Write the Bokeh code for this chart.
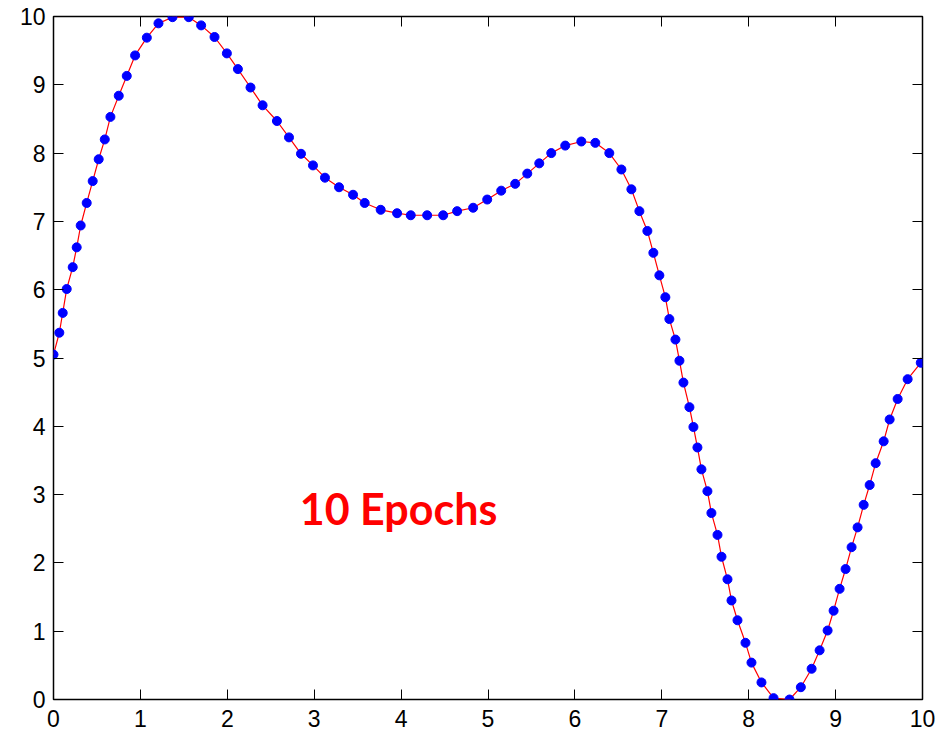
from bokeh.plotting import figure
from bokeh.models import Range1d, LinearAxis, FixedTicker, Label
from bokeh.embed import file_html
from bokeh.resources import INLINE

x_vals = [0.00, 0.067, 0.106, 0.152, 0.221, 0.267, 0.313, 0.382, 0.451, 0.520,
          0.590, 0.655, 0.751, 0.843, 0.939, 1.074, 1.208, 1.369, 1.557, 1.699,
          1.853, 1.995, 2.122, 2.267, 2.406, 2.571, 2.710, 2.848, 2.986, 3.124,
          3.286, 3.447, 3.581, 3.765, 3.954, 4.111, 4.300, 4.484, 4.645, 4.829,
          4.991, 5.152, 5.313, 5.452, 5.590, 5.728, 5.889, 6.074, 6.235, 6.396,
          6.535, 6.650, 6.742, 6.834, 6.903, 6.972, 7.041, 7.087, 7.157, 7.203,
          7.249, 7.318, 7.364, 7.410, 7.456, 7.525, 7.571, 7.641, 7.687, 7.756,
          7.802, 7.871, 7.963, 8.032, 8.147, 8.286, 8.470, 8.600, 8.724, 8.816,
          8.908, 8.977, 9.046, 9.115, 9.184, 9.253, 9.323, 9.392, 9.461, 9.553,
          9.622, 9.714, 9.829, 9.980]
y_vals = [5.05, 5.37, 5.66, 6.01, 6.33, 6.62, 6.94, 7.27, 7.59, 7.91,
          8.20, 8.53, 8.84, 9.13, 9.43, 9.69, 9.90, 9.99, 9.99, 9.87,
          9.70, 9.46, 9.23, 8.96, 8.70, 8.47, 8.23, 7.99, 7.82, 7.64,
          7.50, 7.39, 7.27, 7.17, 7.12, 7.09, 7.09, 7.09, 7.15, 7.20,
          7.32, 7.45, 7.55, 7.70, 7.85, 8.00, 8.11, 8.17, 8.15, 8.00,
          7.76, 7.47, 7.15, 6.86, 6.54, 6.21, 5.89, 5.57, 5.27, 4.96,
          4.64, 4.28, 3.99, 3.69, 3.37, 3.05, 2.73, 2.41, 2.09, 1.76,
          1.45, 1.16, 0.83, 0.54, 0.25, 0.02, 0.00, 0.18, 0.45, 0.72,
          1.01, 1.30, 1.62, 1.91, 2.23, 2.52, 2.85, 3.14, 3.46, 3.78,
          4.10, 4.40, 4.69, 4.93]
tick_values = list(range(0, 11))
annotation_text = "10 Epochs"

p = figure(width=940, height=736, output_backend="svg", toolbar_location=None,
           x_range=Range1d(0, 10), y_range=Range1d(0, 10),
           min_border_left=53, min_border_right=18, min_border_top=16,
           min_border_bottom=37)
p.background_fill_color = "white"
p.border_fill_color = "white"
p.outline_line_color = "black"
p.outline_line_width = 1.5
p.xgrid.visible = False
p.ygrid.visible = False

for ax in (p.xaxis[0], p.yaxis[0]):
    ax.ticker = FixedTicker(ticks=tick_values)
    ax.axis_line_color = None
    ax.major_tick_in = 10
    ax.major_tick_out = 0
    ax.minor_tick_line_color = None
    ax.major_tick_line_color = "black"
    ax.major_tick_line_width = 1
    ax.major_label_text_font = "Liberation Sans"
    ax.major_label_text_font_size = "23px"
    ax.major_label_text_color = "black"
p.xaxis[0].major_label_standoff = 10
p.yaxis[0].major_label_standoff = 8

for loc in ("above", "right"):
    ax = LinearAxis(ticker=FixedTicker(ticks=tick_values))
    ax.axis_line_color = None
    ax.major_tick_in = 10
    ax.major_tick_out = 0
    ax.minor_tick_line_color = None
    ax.major_label_overrides = {t: "" for t in tick_values}
    ax.major_label_standoff = 0
    p.add_layout(ax, loc)

p.line(x_vals, y_vals, line_color="red", line_width=1.2)
p.scatter(x_vals, y_vals, size=9, fill_color="blue", line_color="blue")

lab = Label(x=3.97, y=2.80, text=annotation_text, text_color="red",
            text_font="Lato", text_font_style="bold", text_font_size="43px",
            text_align="center", text_baseline="alphabetic")
p.add_layout(lab)

open("out.html", "w").write(file_html(p, INLINE))
